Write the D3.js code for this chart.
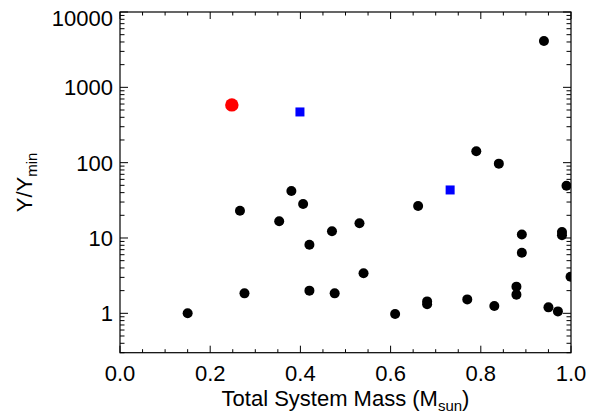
<!DOCTYPE html>
<html>
<head>
<meta charset="utf-8">
<script src="https://cdn.jsdelivr.net/npm/d3@7"></script>
<style>
html,body{margin:0;padding:0;background:#fff;}
svg text{font-family:"Liberation Sans",Arial,Helvetica,sans-serif;fill:#000;}
</style>
</head>
<body>
<svg id="chart" width="600" height="413"></svg>
<script>
// ---- data ----
const blackMass = [0.150,0.266,0.276,0.353,0.380,0.406,0.420,0.420,0.470,0.476,0.531,0.540,0.610,0.661,0.681,0.681,0.770,0.790,0.830,0.840,0.879,0.879,0.891,0.891,0.940,0.950,0.971,0.980,0.980,0.990,0.999];
const blackY    = [1.0,23,1.84,16.7,42,28.3,8.15,2.0,12.3,1.84,15.7,3.4,0.98,26.6,1.44,1.32,1.53,142,1.25,97,2.26,1.77,11.1,6.38,4130,1.20,1.06,12.0,10.9,49.5,3.06];
const redMass = [0.248];
const redY    = [584];
const blueMass = [0.399,0.732];
const blueY    = [471,43.4];
const xTicks = [0.0,0.2,0.4,0.6,0.8,1.0];
const xTickLabels = ["0.0","0.2","0.4","0.6","0.8","1.0"];
const yTicks = [1,10,100,1000,10000];
const yTickLabels = ["1","10","100","1000","10000"];

// ---- layout ----
const svg = d3.select("#chart");
const L = 120, T = 12, R = 571, B = 352.7;
const x = d3.scaleLinear().domain([0,1]).range([L,R]);
const y = d3.scaleLog().domain([0.3,10000]).range([B,T]);
const FS = 22;

svg.append("defs").append("clipPath").attr("id","clip")
  .append("rect").attr("x",L).attr("y",T).attr("width",R-L).attr("height",B-T);

// minor ticks
const xMinor = d3.range(0,1.0001,0.05).map(v=>+v.toFixed(2)).filter(v=>!xTicks.some(t=>Math.abs(t-v)<1e-6));
const yMinor = [];
[0.1,1,10,100,1000].forEach(d=>{for(let k=2;k<=9;k++){const v=d*k; if(v>=0.3 && v<=10000) yMinor.push(v);}});

const tickG = svg.append("g").attr("stroke","#000").attr("stroke-width",1);
xTicks.forEach(v=>{
  tickG.append("line").attr("x1",x(v)).attr("x2",x(v)).attr("y1",B).attr("y2",B-7);
  tickG.append("line").attr("x1",x(v)).attr("x2",x(v)).attr("y1",T).attr("y2",T+7);
});
xMinor.forEach(v=>{
  tickG.append("line").attr("x1",x(v)).attr("x2",x(v)).attr("y1",B).attr("y2",B-3.5);
  tickG.append("line").attr("x1",x(v)).attr("x2",x(v)).attr("y1",T).attr("y2",T+3.5);
});
yTicks.forEach(v=>{
  tickG.append("line").attr("y1",y(v)).attr("y2",y(v)).attr("x1",L).attr("x2",L+8);
  tickG.append("line").attr("y1",y(v)).attr("y2",y(v)).attr("x1",R).attr("x2",R-8);
});
yMinor.forEach(v=>{
  tickG.append("line").attr("y1",y(v)).attr("y2",y(v)).attr("x1",L).attr("x2",L+4.5);
  tickG.append("line").attr("y1",y(v)).attr("y2",y(v)).attr("x1",R).attr("x2",R-4.5);
});

// frame
svg.append("rect").attr("x",L).attr("y",T).attr("width",R-L).attr("height",B-T)
  .attr("fill","none").attr("stroke","#000").attr("stroke-width",1.2);

// tick labels
svg.append("g").selectAll("text").data(xTicks).join("text")
  .attr("x",d=>x(d)).attr("y",B+28).attr("text-anchor","middle")
  .attr("font-size",FS).text((d,i)=>xTickLabels[i]);
svg.append("g").selectAll("text").data(yTicks).join("text")
  .attr("x",L-7).attr("y",d=>Math.max(y(d),18)+8).attr("text-anchor","end")
  .attr("font-size",FS).text((d,i)=>yTickLabels[i]);

// axis titles
const xt = svg.append("text").attr("x",(L+R)/2).attr("y",406).attr("text-anchor","middle").attr("font-size",FS);
xt.append("tspan").text("Total System Mass (M");
xt.append("tspan").attr("font-size",15).attr("dy",5).text("sun");
xt.append("tspan").attr("dy",-5).text(")");

const yt = svg.append("text").attr("transform",`translate(32,${(T+B)/2}) rotate(-90)`).attr("text-anchor","middle").attr("font-size",FS);
yt.append("tspan").text("Y/Y");
yt.append("tspan").attr("font-size",15).attr("dy",5).text("min");

// points
const pts = svg.append("g").attr("clip-path","url(#clip)");
pts.selectAll("circle.blk").data(blackMass.map((m,i)=>[m,blackY[i]])).join("circle")
  .attr("class","blk").attr("cx",d=>x(d[0])).attr("cy",d=>y(d[1])).attr("r",5).attr("fill","#000");
pts.selectAll("circle.red").data(redMass.map((m,i)=>[m,redY[i]])).join("circle")
  .attr("class","red").attr("cx",d=>x(d[0])).attr("cy",d=>y(d[1])).attr("r",6.7).attr("fill","#ff0000");
pts.selectAll("rect.blue").data(blueMass.map((m,i)=>[m,blueY[i]])).join("rect")
  .attr("class","blue").attr("x",d=>x(d[0])-4.5).attr("y",d=>y(d[1])-4.5).attr("width",9).attr("height",9).attr("fill","#0000ff");
</script>
</body>
</html>
